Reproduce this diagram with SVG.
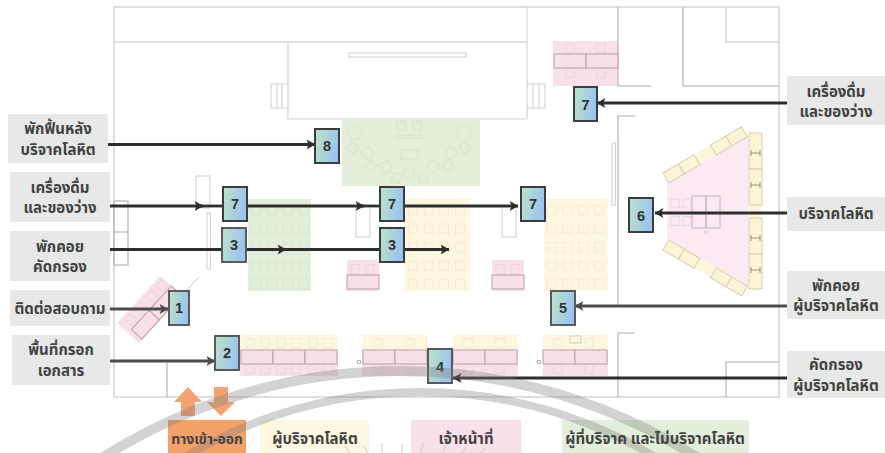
<svg xmlns="http://www.w3.org/2000/svg" width="885" height="453" viewBox="0 0 885 453">
<style>
text{font-family:"Noto Sans","Noto Sans Thai","Noto Sans CJK SC",sans-serif;font-weight:700;fill:#424242;text-anchor:middle}
.lb{font-size:15px}
.lg{font-size:15px}
.num{font-family:"Liberation Sans",sans-serif;font-size:14.5px;fill:#333}
.lbox{fill:#e7e8e8}
.nbox{fill:url(#grad);stroke:#3c3c3c;stroke-width:2}
.nbg{fill:url(#grad);stroke:#5a5a5a;stroke-width:2}
.wall{fill:none;stroke:#d8d8d8;stroke-width:1.6}
.thin{fill:none;stroke:#d2d2d2;stroke-width:1.1}
.dk{fill:none;stroke:#adadad;stroke-width:1.1}
.pink{fill:#f9e0ea}
.cream{fill:#fef7df}
.green{fill:#e3efda}
.tb{fill:#f8dfe9;stroke:#bba6b0;stroke-width:1.1}
.ctb{fill:#fdf4d8;stroke:#dcd1b2;stroke-width:1.1}
.ch{fill:none;stroke:#ebd5de;stroke-width:1}
.cg{fill:none;stroke:#d6e3cf;stroke-width:1}
.cc{fill:none;stroke:#f2ead0;stroke-width:1}
.ar{fill:none;stroke:#2e2e2e;stroke-width:2.8}
.arm{fill:none;stroke:#2e2e2e;stroke-width:2.8;marker-end:url(#ah)}
.arg{fill:none;stroke:#4c4c4c;stroke-width:2.8;marker-end:url(#ahg)}
.wm{fill:none;stroke:#7d7d7d;stroke-opacity:.34}
</style>
<defs>
<linearGradient id="grad" x1="0" y1="0" x2="1" y2="0.25"><stop offset="0" stop-color="#bde3c8"/><stop offset="1" stop-color="#9cc4ee"/></linearGradient>
<marker id="ah" markerUnits="userSpaceOnUse" markerWidth="12" markerHeight="14" refX="8.500" refY="7" orient="auto"><path d="M0 2 L9 7 L0 12 L2.200 7Z" fill="#2e2e2e"/></marker>
<marker id="ahg" markerUnits="userSpaceOnUse" markerWidth="12" markerHeight="14" refX="8.500" refY="7" orient="auto"><path d="M0 2 L9 7 L0 12 L2.200 7Z" fill="#4c4c4c"/></marker>
<pattern id="pg" patternUnits="userSpaceOnUse" width="16" height="18.5"><rect x="3.5" y="4.7" width="9" height="9" class="cg"/></pattern>
<pattern id="pc" patternUnits="userSpaceOnUse" width="15.7" height="18.5"><rect x="3.5" y="4.7" width="9" height="9" class="cc"/></pattern>
<rect id="c" x="-4.2" y="-4.5" width="8.4" height="9"/>
<path id="u" d="M-5 -5 V1 A5 5 0 0 0 5 1 V-5 Z"/>
</defs>
<rect width="885" height="453" fill="#fff"/>
<g id="zones">
<rect class="green" x="342" y="120" width="138" height="66"/>
<rect class="pink" x="553" y="41" width="65" height="45"/>
<rect class="green" x="248" y="199" width="63" height="92"/>
<rect class="cream" x="405" y="199" width="65" height="92"/>
<rect class="cream" x="544" y="199" width="64" height="92"/>
<rect class="pink" x="347" y="260" width="32" height="31"/>
<rect class="pink" x="492" y="260" width="32" height="31"/>
<rect class="cream" x="240" y="335" width="98" height="15"/><rect class="pink" x="240" y="350" width="98" height="26"/>
<rect class="cream" x="362" y="335" width="66" height="15"/><rect class="pink" x="362" y="350" width="66" height="26"/>
<rect class="cream" x="453" y="335" width="65" height="15"/><rect class="pink" x="453" y="350" width="65" height="26"/>
<rect class="cream" x="543" y="335" width="65" height="15"/><rect class="pink" x="543" y="350" width="65" height="26"/>
<polygon points="667,183 748,137 748,285 667,240" fill="#fbeaf3"/>
<g transform="translate(117,323) rotate(-47.5)"><rect class="pink" width="64" height="30"/></g>
</g>
<g id="plan">
<rect class="wall" x="114" y="7" width="665" height="390"/>
<path class="wall" d="M114 42H527"/>
<path class="thin" d="M288 42V119H527V7"/>
<rect class="thin" x="349" y="53" width="117" height="4"/>
<path class="thin" d="M288 84H271V108H288M277 84V108M282 84V108M527 84H545V108H527M533 84V108M539 84V108"/>
<path class="dk" d="M618 7V86H651M683 7V86H779M618 305V116H635M618 397V333H635M726 397V362H779"/>
<path class="wall" d="M726 7V42H779"/>
<path class="dk" d="M167 363V397"/>
<rect class="thin" x="612" y="143" width="3.500" height="62"/>
<rect class="dk" x="114" y="201" width="14" height="64"/>
<path class="dk" d="M114 232H128"/>
<rect class="thin" x="196" y="176" width="14" height="32"/>
<rect class="thin" x="207" y="213" width="3.500" height="56"/>
<rect class="thin" x="356" y="206" width="14" height="31"/>
<rect class="thin" x="502" y="206" width="14" height="31"/>
<path class="thin" d="M187 290L199 277"/>
<rect width="64" height="92.500" fill="url(#pg)" transform="translate(248 201)"/>
<rect width="63" height="92.500" fill="url(#pc)" transform="translate(405 201)"/>
<rect width="63" height="92.500" fill="url(#pc)" transform="translate(544 201)"/>
<g class="ch">
<use href="#c" x="570" y="48"/><use href="#c" x="601" y="48"/><use href="#c" x="570" y="73"/><use href="#c" x="601" y="73"/>
<use href="#c" x="355" y="269"/><use href="#c" x="370" y="269"/><use href="#c" x="500" y="269"/><use href="#c" x="515" y="269"/>
<use href="#c" x="250" y="369"/><use href="#c" x="265" y="369"/><use href="#c" x="281" y="369"/><use href="#c" x="296" y="369"/><use href="#c" x="313" y="369"/><use href="#c" x="328" y="369"/>
<use href="#c" x="378" y="369"/><use href="#c" x="410" y="369"/><use href="#c" x="468" y="369"/><use href="#c" x="500" y="369"/><use href="#c" x="558" y="369"/><use href="#c" x="589" y="369"/>
<use href="#c" x="675" y="203.500"/><use href="#c" x="687" y="203.500"/><use href="#c" x="675" y="221"/><use href="#c" x="687" y="221"/>
</g>
<g class="cc">
<use href="#c" x="250" y="343"/><use href="#c" x="265" y="343"/><use href="#c" x="281" y="343"/><use href="#c" x="296" y="343"/><use href="#c" x="313" y="343"/><use href="#c" x="328" y="343"/>
<use href="#c" x="378" y="343"/><use href="#c" x="410" y="343"/><use href="#c" x="468" y="343"/><use href="#c" x="500" y="343"/><use href="#c" x="558" y="343"/><use href="#c" x="589" y="343"/>
</g>
<rect class="ctb" style="fill:none" x="570" y="336" width="11" height="7"/>
<g class="tb">
<rect x="554" y="54" width="32" height="14"/><rect x="586" y="54" width="32" height="14"/>
<rect x="347" y="275" width="32" height="14"/><rect x="492" y="275" width="32" height="14"/>
<rect x="241" y="350" width="32" height="14"/><rect x="273" y="350" width="32" height="14"/><rect x="305" y="350" width="32" height="14"/>
<rect x="363" y="350" width="32" height="14"/><rect x="395" y="350" width="32" height="14"/>
<rect x="453" y="350" width="32" height="14"/><rect x="485" y="350" width="32" height="14"/>
<rect x="543" y="350" width="32" height="14"/><rect x="575" y="350" width="32" height="14"/>
<rect x="692" y="196" width="14" height="32" style="fill:none;stroke:#cdb7c2"/><rect x="706" y="196" width="14" height="32" style="fill:none;stroke:#cdb7c2"/>
</g>
<circle cx="359" cy="362" r="1.800" class="dk"/><circle cx="539" cy="362" r="1.800" class="dk"/><circle cx="706" cy="232" r="1.800" class="ch" style="fill:#ddd"/>
<g transform="translate(117,323) rotate(-47.5)">
<g class="ch"><use href="#c" x="12" y="8"/><use href="#c" x="27" y="8"/><use href="#c" x="43" y="8"/><use href="#c" x="58" y="8"/></g>
<g class="tb"><rect x="5" y="15" width="26" height="14" style="fill:#f8dfe9"/><rect x="31" y="15" width="33" height="14" style="fill:#f8dfe9"/></g>
</g>
<g transform="translate(663,173) rotate(-30.500)"><rect class="cream" width="91" height="11.500"/><g class="ctb"><rect width="18" height="11.500"/><rect x="18" width="18" height="11.500"/><rect x="55" width="18" height="11.500"/><rect x="73" width="18" height="11.500"/></g></g>
<g transform="translate(663,250) rotate(30.300)"><rect class="cream" y="-11.500" width="91" height="11.500"/><g class="ctb"><rect y="-11.500" width="18" height="11.500"/><rect x="18" y="-11.500" width="18" height="11.500"/><rect x="55" y="-11.500" width="18" height="11.500"/><rect x="73" y="-11.500" width="18" height="11.500"/></g></g>
<rect class="cream" x="749" y="133" width="13" height="157"/>
<g class="ctb"><rect x="749" y="133" width="13" height="36"/><rect x="749" y="169" width="13" height="36"/><rect x="749" y="218" width="13" height="36"/><rect x="749" y="254" width="13" height="35"/></g>
<path d="M751 153H760M751 150V156M760 150V156M751 185H760M751 182V188M760 182V188M751 238H760M751 235V241M760 235V241M751 270H760M751 267V273M760 267V273" fill="none" stroke="#8a826c" stroke-width=".9"/>
<g class="cg">
<circle cx="355" cy="133" r="7"/><circle cx="464" cy="133" r="7"/>
<use href="#c" x="401" y="125.500"/><use href="#c" x="417" y="125.500"/>
<rect x="397" y="135" width="25" height="3.500"/><rect x="401" y="150" width="17" height="9"/>
<use href="#c" transform="translate(353,148) rotate(30)"/><use href="#c" transform="translate(371,166) rotate(40)"/><use href="#c" transform="translate(396,178) rotate(15)"/><use href="#c" transform="translate(423,178) rotate(-15)"/><use href="#c" transform="translate(448,166) rotate(-40)"/><use href="#c" transform="translate(465,148) rotate(-30)"/>
<use href="#u" transform="translate(367,153) rotate(-40)"/><use href="#u" transform="translate(386,167) rotate(-20)"/><use href="#u" transform="translate(409,173)"/><use href="#u" transform="translate(433,167) rotate(20)"/><use href="#u" transform="translate(451,153) rotate(40)"/>
</g>
</g>
<g id="connectors">
<path class="arm" d="M108 144.500H315"/>
<path class="arm" d="M110 206H203"/><path class="ar" d="M200 206H223"/>
<path class="arm" d="M247 206H364"/><path class="ar" d="M360 206H380"/>
<path class="arm" d="M404 206H518"/>
<path class="arm" d="M110 249.500H286"/><path class="ar" d="M280 249.500H380"/>
<path class="arm" d="M404 249.500H449"/>
<path class="arg" d="M110 309H168"/>
<path class="arg" d="M110 361H215"/>
<path class="arm" d="M787 103H597"/>
<path class="arm" d="M787 213H655"/>
<path class="arg" d="M787 306H575"/>
<path class="arm" d="M787 378H453"/>
</g>
<g id="n8"><rect class="nbox" x="315" y="129" width="24" height="34"/><text class="num" x="327" y="151">8</text></g>
<g id="n7a"><rect class="nbox" x="223" y="187" width="24" height="34"/><text class="num" x="235" y="209">7</text></g>
<g id="n3a"><rect class="nbg" x="222" y="228" width="24" height="34"/><text class="num" x="234" y="250">3</text></g>
<g id="n1"><rect class="nbg" x="169" y="291" width="20" height="34"/><text class="num" x="179" y="313">1</text></g>
<g id="n2"><rect class="nbg" x="215" y="336" width="24" height="34"/><text class="num" x="227" y="358">2</text></g>
<g id="n7b"><rect class="nbox" x="380" y="187" width="24" height="34"/><text class="num" x="392" y="209">7</text></g>
<g id="n3b"><rect class="nbox" x="380" y="228" width="24" height="34"/><text class="num" x="392" y="250">3</text></g>
<g id="n7c"><rect class="nbox" x="521" y="187" width="24" height="34"/><text class="num" x="533" y="209">7</text></g>
<g id="n4"><rect class="nbg" x="428" y="349" width="24" height="34"/><text class="num" x="440" y="372">4</text></g>
<g id="n5"><rect class="nbg" x="551" y="291" width="24" height="34"/><text class="num" x="563" y="313">5</text></g>
<g id="n6"><rect class="nbox" x="629" y="198" width="24" height="34"/><text class="num" x="641" y="221">6</text></g>
<g id="n7d"><rect class="nbox" x="574" y="87" width="23" height="34"/><text class="num" x="585.500" y="110">7</text></g>
<g id="legend-boxes">
<polygon points="188,387 202,402 195,402 195,416 181,416 181,402 174,402" fill="#f4a271"/>
<polygon points="214,387 228,387 228,402 235,402 221,416 207,402 214,402" fill="#f4a271"/>
<rect x="168" y="420" width="78" height="33" fill="#f4a269"/>
<rect x="260" y="420" width="109" height="33" fill="#fef7e2"/>
<rect x="411" y="420" width="110" height="33" fill="#f9e0ea"/>
<rect x="562" y="420" width="187" height="33" fill="#e3efda"/>
</g>
<g id="watermark">
<circle class="wm" cx="400" cy="925" r="554" stroke-width="10"/>
<circle class="wm" cx="420" cy="850" r="458" stroke-width="8"/>
<path d="M350 453L344 445M368 453L364 446M382 453V443M402 453V444M421 453L423 443M443 453L446 444M462 453L466 447M480 453L486 448" fill="none" stroke="#bbb" stroke-opacity=".35" stroke-width="2"/>
</g>
<g id="l-rest"><rect class="lbox" x="8" y="114" width="100" height="49"/><text class="lb" x="58" y="134">พักฟื้นหลัง</text><text class="lb" x="58" y="155">บริจาคโลหิต</text></g>
<g id="l-snackL"><rect class="lbox" x="10" y="172" width="100" height="50"/><text class="lb" x="60" y="193">เครื่องดื่ม</text><text class="lb" x="60" y="213">และของว่าง</text></g>
<g id="l-wait"><rect class="lbox" x="10" y="231" width="100" height="50"/><text class="lb" x="60" y="252">พักคอย</text><text class="lb" x="60" y="272">คัดกรอง</text></g>
<g id="l-info"><rect class="lbox" x="10" y="290" width="100" height="36"/><text class="lb" x="60" y="314">ติดต่อสอบถาม</text></g>
<g id="l-form"><rect class="lbox" x="12" y="335" width="98" height="50"/><text class="lb" x="61" y="355">พื้นที่กรอก</text><text class="lb" x="61" y="376">เอกสาร</text></g>
<g id="r-snack"><rect class="lbox" x="787" y="76" width="98" height="49"/><text class="lb" x="836" y="97">เครื่องดื่ม</text><text class="lb" x="836" y="117">และของว่าง</text></g>
<g id="r-donate"><rect class="lbox" x="787" y="197" width="98" height="34"/><text class="lb" x="836" y="219">บริจาคโลหิต</text></g>
<g id="r-wait"><rect class="lbox" x="787" y="271" width="98" height="48"/><text class="lb" x="836" y="291">พักคอย</text><text class="lb" x="836" y="311">ผู้บริจาคโลหิต</text></g>
<g id="r-screen"><rect class="lbox" x="787" y="351" width="98" height="47"/><text class="lb" x="836" y="370">คัดกรอง</text><text class="lb" x="836" y="391">ผู้บริจาคโลหิต</text></g>
<g id="legend-text">
<text class="lg" style="font-size:14px" x="207" y="444">ทางเข้า-ออก</text>
<text class="lg" x="315" y="444">ผู้บริจาคโลหิต</text>
<text class="lg" x="466" y="444">เจ้าหน้าที่</text>
<text class="lg" x="655" y="444">ผู้ที่บริจาค และไม่บริจาคโลหิต</text>
</g>
</svg>
